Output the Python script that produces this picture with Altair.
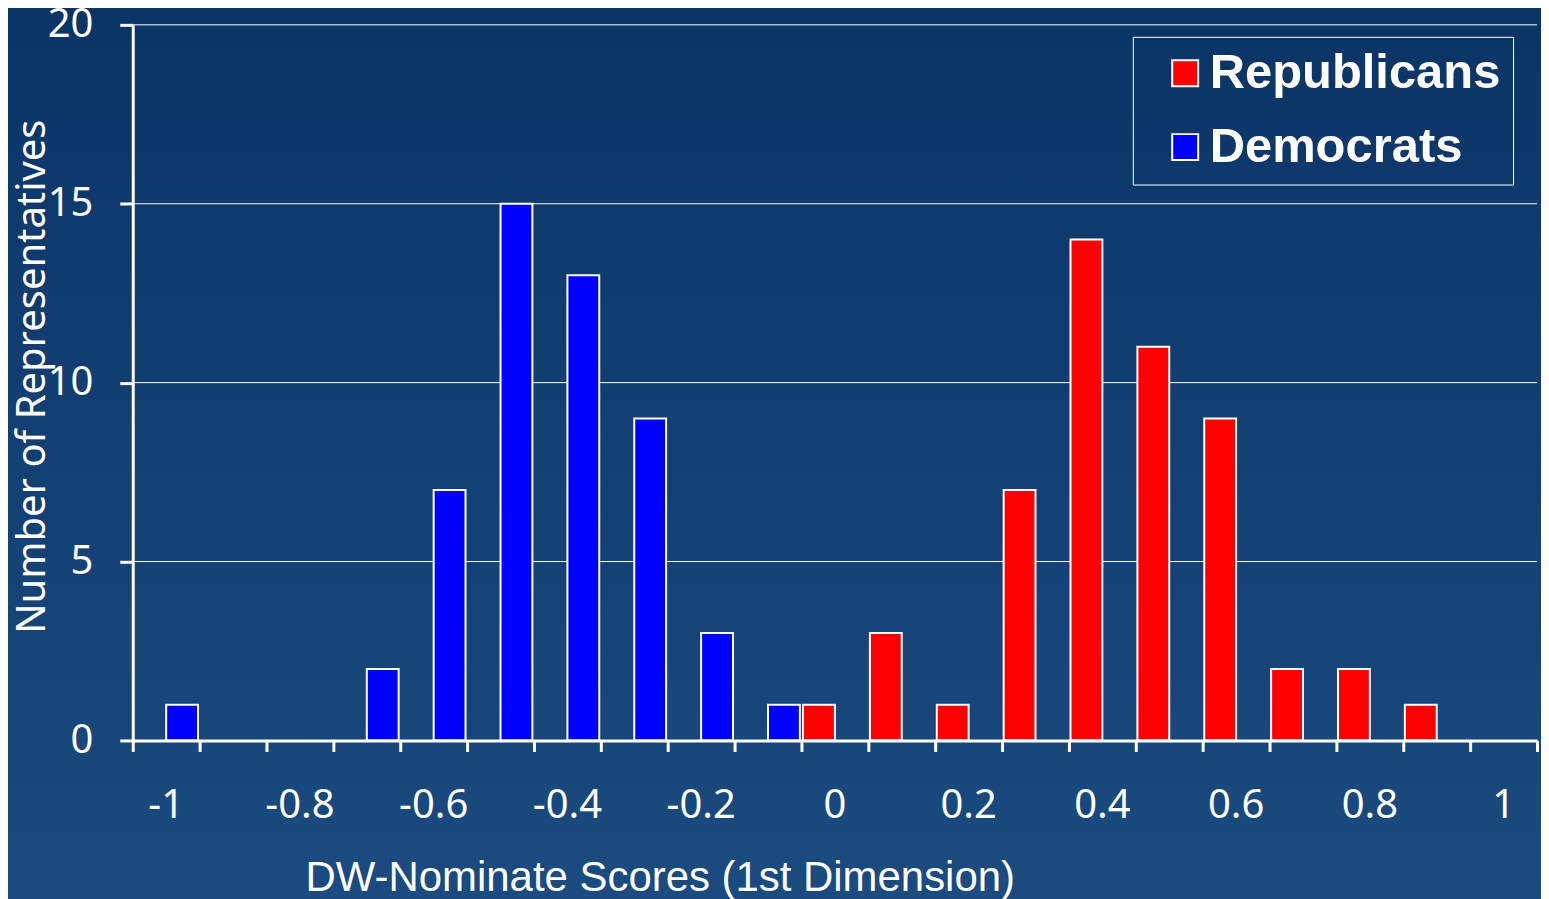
import altair as alt
import pandas as pd

# ---- data ----
categories = ["-1", "-0.9", "-0.8", "-0.7", "-0.6", "-0.5", "-0.4", "-0.3", "-0.2", "-0.1",
              "0", "0.1", "0.2", "0.3", "0.4", "0.5", "0.6", "0.7", "0.8", "0.9", "1"]
republicans = [0, 0, 0, 0, 0, 0, 0, 0, 0, 0, 1, 3, 1, 7, 14, 11, 9, 2, 2, 1, 0]
democrats = [1, 0, 0, 2, 7, 15, 13, 9, 3, 1, 0, 0, 0, 0, 0, 0, 0, 0, 0, 0, 0]
parties = ["Republicans", "Democrats"]
party_colors = ["#ff0000", "#0000ff"]
shown_labels = ["-1", "-0.8", "-0.6", "-0.4", "-0.2", "0", "0.2", "0.4", "0.6", "0.8", "1"]
y_ticks = [0, 5, 10, 15, 20]
grid_values = [5, 10, 15, 20]

rows = []
for c, r, d in zip(categories, republicans, democrats):
    rows.append({"score": c, "party": "Republicans", "count": r})
    rows.append({"score": c, "party": "Democrats", "count": d})
df = pd.DataFrame(rows)
df = df[df["count"] > 0]
grid_df = pd.DataFrame({"count": grid_values})

W, H = 1407, 717
label_font = "Noto Sans"

label_list = ",".join("'" + s + "'" for s in shown_labels)
label_expr = f"indexof([{label_list}], datum.value) >= 0 ? datum.label : ''"

y_enc = alt.Y(
    "count:Q",
    scale=alt.Scale(domain=[0, 20], nice=False),
    axis=alt.Axis(
        values=y_ticks,
        title="Number of Representatives",
        titleFont=label_font,
        titleFontSize=40,
        titleFontWeight="normal",
        titleColor="white",
        titleAngle=270,
        titleX=-100,
        titleY=352,
        titleAlign="center",
        titleBaseline="middle",
        labelFont=label_font,
        labelFontSize=40,
        labelColor="white",
        labelPadding=27,
        tickSize=13,
        tickWidth=3,
        tickColor="white",
        domainColor="white",
        domainWidth=3,
        grid=False,
        zindex=2,
    ),
)

background = alt.Chart(alt.Data(values=[{"k": 1}])).mark_rect(
    fill=alt.LinearGradient(
        gradient="linear",
        stops=[alt.GradientStop(color="#0b3466", offset=0),
               alt.GradientStop(color="#1b4b80", offset=1)],
        x1=0, x2=0, y1=0, y2=1,
    )
).encode(
    x=alt.value(-130), x2=alt.value(W + 20), y=alt.value(-20), y2=alt.value(H + 170)
)

grid = alt.Chart(grid_df).mark_rule(color="white", strokeWidth=1).encode(y=y_enc)

bars = alt.Chart(df).mark_bar(stroke="white", strokeWidth=2).encode(
    x=alt.X(
        "score:N",
        sort=categories,
        scale=alt.Scale(domain=categories, paddingInner=0, paddingOuter=0),
        axis=alt.Axis(
            title="DW-Nominate Scores (1st Dimension)",
            titleFont="Liberation Sans",
            titleFontSize=42,
            titleFontWeight="normal",
            titleColor="white",
            titleX=528,
            titleY=150,
            titleAlign="center",
            titleBaseline="alphabetic",
            labelExpr=label_expr,
            labelAngle=0,
            labelFont=label_font,
            labelFontSize=40,
            labelColor="white",
            labelPadding=34,
            bandPosition=1,
            tickExtra=True,
            tickSize=11,
            tickWidth=3,
            tickColor="white",
            domainColor="white",
            domainWidth=3,
            grid=False,
            zindex=2,
        ),
    ),
    xOffset=alt.XOffset(
        "party:N",
        scale=alt.Scale(domain=parties, paddingOuter=0.05, paddingInner=0),
    ),
    y=y_enc,
    color=alt.Color(
        "party:N",
        scale=alt.Scale(domain=parties, range=party_colors),
        legend=alt.Legend(
            title=None,
            orient="none",
            legendX=1002,
            legendY=12,
            direction="vertical",
            strokeColor="white",
            padding=12,
            symbolOffset=16,
            symbolType="square",
            symbolSize=676,
            symbolStrokeColor="white",
            symbolStrokeWidth=2,
            symbolOpacity=1,
            labelFont="Liberation Sans",
            labelFontWeight="bold",
            labelFontSize=49,
            labelColor="white",
            labelOffset=0,
            labelExpr="datum.label + '\u00a0\u00a0'",
            rowPadding=24,
            labelLimit=500,
            zindex=3,
        ),
    ),
)

chart = alt.layer(background, grid, bars).properties(
    width=W,
    height=H,
    autosize=alt.AutoSizeParams(type="none"),
    padding={"left": 125, "top": 16, "right": 4, "bottom": 158},
    background="#13406f",
).configure_view(stroke="transparent")

chart.save("out.html", embed_options={"renderer": "svg", "actions": False})
